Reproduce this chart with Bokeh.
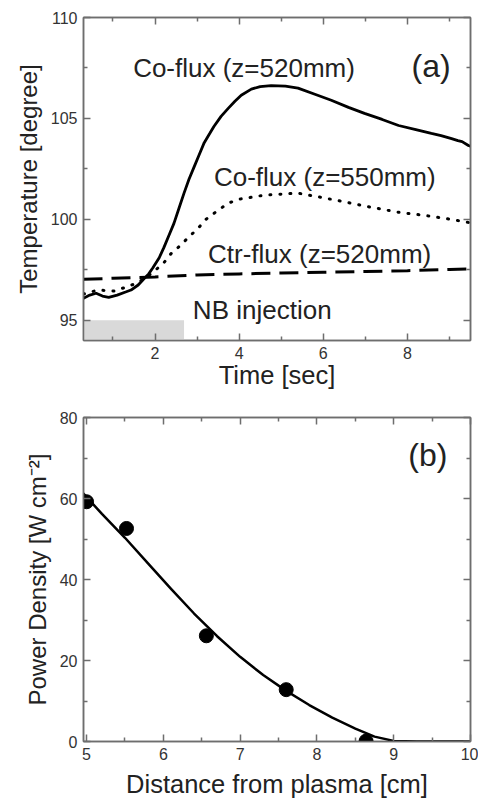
from bokeh.plotting import figure
from bokeh.models import Range1d, LinearAxis, Label, FixedTicker
from bokeh.layouts import column
from bokeh.embed import file_html
from bokeh.resources import INLINE

FONT = "Liberation Sans"
TXT = "#222222"
AX = "#6e6e6e"

# ---- panel (a) data ----
t_co520 = [0.3, 0.45, 0.6, 0.75, 0.9, 1.1, 1.3, 1.43, 1.6, 1.71, 1.85, 1.95, 2.1, 2.21, 2.33, 2.45,
           2.57, 2.69, 2.81, 2.93, 3.05, 3.17, 3.3, 3.4, 3.57, 3.74, 3.9, 4.05, 4.29, 4.5, 4.76,
           5.1, 5.4, 5.8, 6.19, 6.6, 6.98, 7.4, 7.79, 8.2, 8.57, 8.8, 9.05, 9.2, 9.3, 9.45, 9.5]
T_co520 = [96.09, 96.25, 96.34, 96.2, 96.14, 96.25, 96.4, 96.5, 96.75, 97.0, 97.3, 97.6, 98.1, 98.6,
           99.2, 99.8, 100.55, 101.3, 102.0, 102.6, 103.2, 103.8, 104.25, 104.6, 105.1, 105.5,
           105.85, 106.15, 106.45, 106.58, 106.63, 106.6, 106.5, 106.2, 105.9, 105.55, 105.25,
           104.95, 104.65, 104.45, 104.26, 104.15, 104.0, 103.9, 103.85, 103.66, 103.62]

t_co550 = [0.3, 0.64, 1.02, 1.4, 1.7, 1.9, 2.19, 2.38, 2.6, 2.79, 3.02, 3.21, 3.5, 3.74, 4.0, 4.6,
           5.4, 5.8, 6.43, 7.14, 7.79, 8.4, 9.05, 9.45, 9.5]
T_co550 = [96.3, 96.5, 96.45, 96.7, 97.0, 97.3, 97.8, 98.3, 98.7, 99.1, 99.55, 100.0, 100.45, 100.8,
           101.0, 101.2, 101.3, 101.15, 100.9, 100.6, 100.35, 100.2, 100.0, 99.85, 99.83]

t_ctr520 = [0.3, 1.0, 2.0, 3.0, 4.0, 5.0, 6.0, 7.0, 8.0, 9.0, 9.5]
T_ctr520 = [97.03, 97.08, 97.15, 97.25, 97.3, 97.34, 97.38, 97.42, 97.46, 97.52, 97.55]

nb_start = [0.3]
nb_end = [2.69]

# ---- panel (b) data ----
dist_meas = [5.0, 5.52, 6.56, 7.6, 8.64]
power_meas = [59.2, 52.6, 26.1, 12.8, 0.1]
dist_fit = [4.94, 5.2, 5.5, 5.8, 6.1, 6.4, 6.7, 7.0, 7.3, 7.6, 7.9, 8.2, 8.5, 8.75, 9.0, 9.3, 10.0]
power_fit = [61.6, 56.2, 50.3, 44.0, 37.7, 31.6, 26.0, 20.9, 16.4, 12.5, 9.0, 5.9, 3.2, 1.2, 0.15, 0.0, 0.0]


def style(p, xt, xm, yt, ym, xlab_standoff):
    p.xaxis.visible = False
    p.yaxis.visible = False
    p.grid.visible = False
    p.outline_line_color = AX
    p.outline_line_width = 1.5
    axes = {
        "below": LinearAxis(axis_label=p.xaxis[0].axis_label),
        "left": LinearAxis(axis_label=p.yaxis[0].axis_label),
        "above": LinearAxis(),
        "right": LinearAxis(),
    }
    for side, ax in axes.items():
        if side in ("below", "above"):
            ax.ticker = FixedTicker(ticks=xt, minor_ticks=xm)
        else:
            ax.ticker = FixedTicker(ticks=yt, minor_ticks=ym)
        ax.axis_line_color = AX
        ax.axis_line_width = 1.5
        ax.major_tick_line_color = AX
        ax.minor_tick_line_color = AX
        ax.major_tick_line_width = 1.5
        ax.minor_tick_line_width = 1.5
        ax.major_tick_in = 7
        ax.major_tick_out = 0
        ax.minor_tick_in = 4
        ax.minor_tick_out = 0
        ax.major_label_text_font = FONT
        ax.major_label_text_font_size = "16px"
        ax.major_label_text_color = "#333333"
        ax.axis_label_text_font = FONT
        ax.axis_label_text_font_style = "normal"
        ax.axis_label_text_color = TXT
        ax.major_label_standoff = 6
        if side == "below":
            ax.axis_label_text_font_size = "25.5px"
            ax.axis_label_standoff = xlab_standoff
        else:
            ax.axis_label_text_font_size = "24px"
            ax.axis_label_standoff = 6
        if side in ("above", "right"):
            ax.major_label_text_font_size = "1px"
            ax.major_label_text_color = None
            ax.major_label_standoff = 0
            ax.axis_label = None
        p.add_layout(ax, side)


# ---- figure (a) ----
p1 = figure(width=478, height=408, output_backend="svg", toolbar_location=None,
            x_range=Range1d(0.3, 9.5), y_range=Range1d(94, 110),
            x_axis_label="Time [sec]", y_axis_label="Temperature [degree]",
            min_border_left=83, min_border_right=8, min_border_top=17, min_border_bottom=68)
style(p1, [2, 4, 6, 8], [1, 3, 5, 7, 9], [95, 100, 105, 110], [97.5, 102.5, 107.5], -1)

p1.quad(left=nb_start, right=nb_end, bottom=[94], top=[95], fill_color="#d9d9d9", line_color=None)
p1.line(t_co520, T_co520, line_color="black", line_width=2.8)
p1.line(t_co550, T_co550, line_color="black", line_width=3, line_dash="1 9", line_cap="round")
p1.line(t_ctr520, T_ctr520, line_color="black", line_width=3, line_dash="19 9")

for txt, x, y, size in [("Co-flux (z=520mm)", 1.48, 107.5, "26px"),
                        ("Co-flux (z=550mm)", 3.4, 102.1, "26px"),
                        ("Ctr-flux (z=520mm)", 3.26, 98.3, "26px"),
                        ("NB injection", 2.9, 95.5, "26px"),
                        ("(a)", 8.1, 107.6, "32px")]:
    p1.add_layout(Label(x=x, y=y, text=txt, text_font=FONT, text_font_size=size,
                        text_color=TXT, text_baseline="middle", text_align="left"))

# ---- figure (b) ----
p2 = figure(width=478, height=392, output_backend="svg", toolbar_location=None,
            x_range=Range1d(4.96, 10), y_range=Range1d(0, 80),
            x_axis_label="Distance from plasma [cm]", y_axis_label="Power Density [W cm\u207b\u00b2]",
            min_border_left=82, min_border_right=8, min_border_top=9, min_border_bottom=57)
style(p2, [5, 6, 7, 8, 9, 10], [5.5, 6.5, 7.5, 8.5, 9.5], [0, 20, 40, 60, 80], [10, 30, 50, 70], 7)

p2.line(dist_fit, power_fit, line_color="black", line_width=2.5, line_join="round")
p2.scatter(dist_meas, power_meas, size=14, fill_color="black", line_color="black")
p2.add_layout(Label(x=9.19, y=70.8, text="(b)", text_font=FONT, text_font_size="32px",
                    text_color=TXT, text_baseline="middle", text_align="left"))

layout = column(p1, p2, spacing=0)
open("out.html", "w").write(file_html(layout, INLINE))
